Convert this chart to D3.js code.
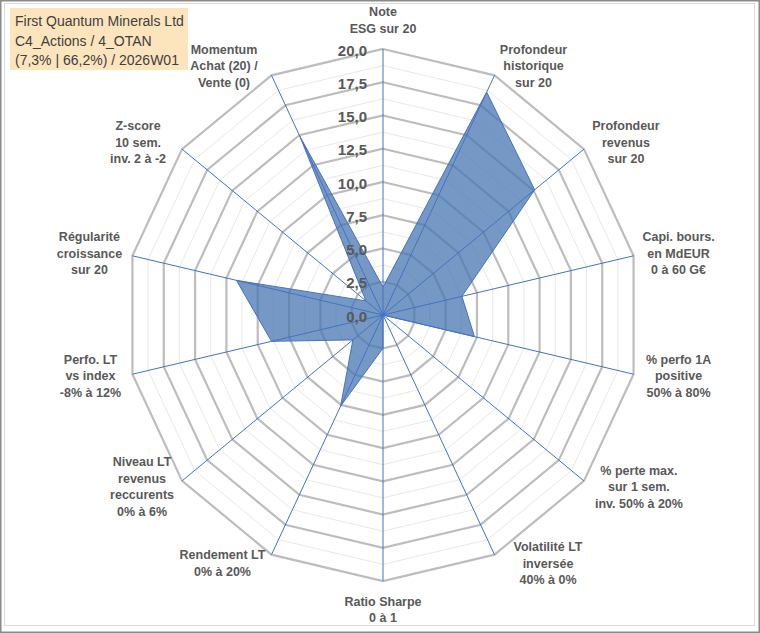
<!DOCTYPE html>
<html>
<head>
<meta charset="utf-8">
<script src="https://cdn.jsdelivr.net/npm/d3@7"></script>
<style>
  body { margin: 0; background: #fff; }
  svg { display: block; font-family: "Liberation Sans", Arial, sans-serif; }
</style>
</head>
<body>
<svg id="radar" width="760" height="633"></svg>
<script>
// Axis names, clockwise from the top
const categories = [
  ['Note', 'ESG sur 20'],
  ['Profondeur', 'historique', 'sur 20'],
  ['Profondeur', 'revenus', 'sur 20'],
  ['Capi. bours.', 'en MdEUR', '0 à 60 G€'],
  ['% perfo 1A', 'positive', '50% à 80%'],
  ['% perte max.', 'sur 1 sem.', 'inv. 50% à 20%'],
  ['Volatilité LT', 'inversée', '40% à 0%'],
  ['Ratio Sharpe', '0 à 1'],
  ['Rendement LT', '0% à 20%'],
  ['Niveau LT', 'revenus', 'reccurents', '0% à 6%'],
  ['Perfo. LT', 'vs index', '-8% à 12%'],
  ['Régularité', 'croissance', 'sur 20'],
  ['Z-score', '10 sem.', 'inv. 2 à -2'],
  ['Momentum', 'Achat (20) /', 'Vente (0)']
];
const scores = [2.1, 18.6, 15.1, 6.3, 7.3, 0, 0, 2.5, 7.6, 3.0, 8.9, 11.7, 1.7, 14.9];
const tickValues = [0, 2.5, 5, 7.5, 10, 12.5, 15, 17.5, 20];
const tickLabels = ['0,0', '2,5', '5,0', '7,5', '10,0', '12,5', '15,0', '17,5', '20,0'];
const titleLines = ['First Quantum Minerals Ltd', 'C4_Actions / 4_OTAN', '(7,3% | 66,2%) / 2026W01'];

function renderRadar() {
  const svg = d3.select('#radar');
  const width = 760, height = 633;
  const cx = 383, cy = 315;
  const n = categories.length;

  // the plot is a little narrower than tall
  const rx = d3.scaleLinear().domain([0, 20]).range([0, 257]);
  const ry = d3.scaleLinear().domain([0, 20]).range([0, 266]);
  const angle = i => i * 2 * Math.PI / n;
  const px = (v, i) => cx + rx(v) * Math.sin(angle(i));
  const py = (v, i) => cy - ry(v) * Math.cos(angle(i));

  // small horizontal nudges for the category labels
  const labelNudge = [0, -7, -4, -1, -1, 9, 7.5, 0, -3, 6, 4, 3, 2, -1.5];

  // Frame
  svg.append('rect').attr('width', width).attr('height', height).attr('fill', '#fff');
  svg.append('rect')
    .attr('x', 0.75).attr('y', 0.75).attr('width', width - 1.5).attr('height', height - 1.5)
    .attr('fill', 'none').attr('stroke', '#8a8a8a').attr('stroke-width', 1.5);
  svg.append('rect')
    .attr('x', 4.5).attr('y', 3.5).attr('width', 750).attr('height', 622)
    .attr('fill', 'none').attr('stroke', '#dcdcdc').attr('stroke-width', 1);

  const ring = v => d3.line().curve(d3.curveLinearClosed)(d3.range(n).map(i => [px(v, i), py(v, i)]));

  // Minor rings
  const minor = tickValues.slice(1).map((t, k) => (t + tickValues[k]) / 2);
  svg.append('g').selectAll('path').data(minor).join('path')
    .attr('d', ring).attr('fill', 'none').attr('stroke', '#e8e8e8').attr('stroke-width', 1);

  // Major rings
  svg.append('g').selectAll('path').data(tickValues.filter(t => t > 0)).join('path')
    .attr('d', ring).attr('fill', 'none').attr('stroke', '#bdbdbd').attr('stroke-width', 2.2);

  // Series
  svg.append('path')
    .datum(scores)
    .attr('d', d3.line().curve(d3.curveLinearClosed).x((d, i) => px(d, i)).y((d, i) => py(d, i)))
    .attr('fill', '#4876b2').attr('fill-opacity', 0.75)
    .attr('stroke', '#4472c4').attr('stroke-width', 1);

  // Spokes
  svg.append('g').selectAll('line').data(d3.range(n)).join('line')
    .attr('x1', cx).attr('y1', cy)
    .attr('x2', i => px(20, i)).attr('y2', i => py(20, i))
    .attr('stroke', '#4472c4').attr('stroke-width', 1);

  // Tick labels
  svg.append('g').selectAll('text').data(tickValues).join('text')
    .attr('x', cx - 16).attr('y', d => cy - ry(d) + 1)
    .attr('text-anchor', 'end').attr('dominant-baseline', 'central')
    .attr('font-size', '15px').attr('font-weight', 'bold').attr('fill', '#595959')
    .text((d, i) => tickLabels[i]);

  // Category labels
  const lineH = 16.5;
  const lab = svg.append('g')
    .attr('font-size', '12.5px').attr('font-weight', 'bold').attr('fill', '#595959')
    .attr('text-anchor', 'middle');
  categories.forEach((lines, i) => {
    const s = Math.sin(angle(i)), c = Math.cos(angle(i));
    let x = px(20, i) + labelNudge[i], y = py(20, i);
    if (Math.abs(s) < 1e-6) {
      y += c > 0 ? -28.5 : 29;
    } else {
      x += Math.sign(s) * 46;
      y += -c * 10;
    }
    const y0 = y - (lines.length - 1) * lineH / 2;
    const t = lab.append('text').attr('dominant-baseline', 'central');
    lines.forEach((l, k) => t.append('tspan').attr('x', x).attr('y', y0 + k * lineH).text(l));
  });

  // Title box
  svg.append('rect').attr('x', 10).attr('y', 8).attr('width', 178).attr('height', 62).attr('fill', '#fce4bd');
  svg.append('g').selectAll('text').data(titleLines).join('text')
    .attr('x', 15).attr('y', (d, i) => 21 + i * 19.5)
    .attr('dominant-baseline', 'central')
    .attr('font-size', '14px').attr('fill', '#404040')
    .text(d => d);
}

renderRadar();
</script>
</body>
</html>
